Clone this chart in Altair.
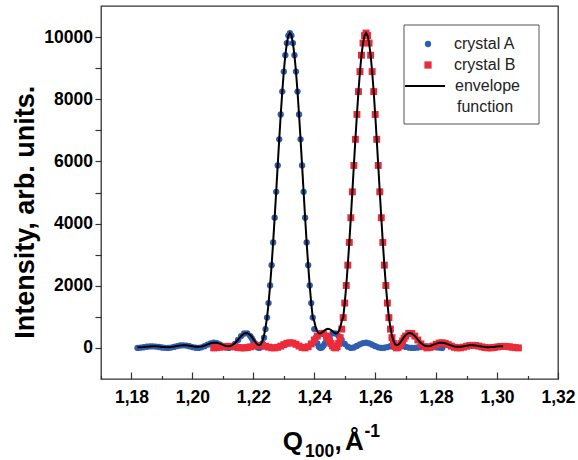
import altair as alt
import pandas as pd

FONT = "Liberation Sans"
BLUE = "#305DAD"
RED = "#EC2B3A"

# ---------------- data ----------------
# crystal A (blue circles)
a_q = [
    1.182, 1.183, 1.184, 1.185, 1.186, 1.187, 1.188, 1.189, 1.190, 1.191,
    1.192, 1.193, 1.194, 1.195, 1.196, 1.197, 1.198, 1.199, 1.200, 1.201,
    1.202, 1.203, 1.204, 1.205, 1.206, 1.207, 1.208, 1.209, 1.210, 1.211,
    1.212, 1.213, 1.214, 1.215, 1.216, 1.217, 1.218, 1.219,
    1.2195, 1.2200, 1.2205, 1.2210, 1.2215, 1.2220, 1.2225, 1.2230, 1.2235, 1.2240,
    1.2245, 1.2250, 1.2255, 1.2260, 1.2265, 1.2270, 1.2275, 1.2280, 1.2285, 1.2290,
    1.2295, 1.2300, 1.2305, 1.2310, 1.2315, 1.2320, 1.2325, 1.2330, 1.2335, 1.2340,
    1.2345, 1.2350, 1.2355, 1.2360, 1.2365, 1.2370, 1.2375, 1.2380, 1.2385, 1.2390,
    1.2395, 1.2400, 1.2405, 1.2410, 1.2415, 1.2420, 1.2425, 1.2430, 1.2435, 1.2440,
    1.2445,
    1.245, 1.246, 1.247, 1.248, 1.249, 1.250, 1.251, 1.252, 1.253, 1.254,
    1.255, 1.256, 1.257, 1.258, 1.259, 1.260, 1.261, 1.262, 1.263, 1.264,
    1.265, 1.266, 1.267, 1.268, 1.269, 1.270, 1.271, 1.272, 1.273, 1.274,
    1.275, 1.276, 1.277, 1.278, 1.279, 1.280, 1.281, 1.282,
]
a_int = [
    1, 9, 22, 37, 48, 51, 44, 30, 14, 2,
    1, 12, 33, 58, 78, 84, 76, 53, 26, 5,
    1, 19, 57, 105, 147, 167, 156, 116, 61, 14,
    1, 39, 129, 255, 381, 464, 469, 381,
    309, 225, 141, 66, 15, 1, 40, 146, 331, 605,
    975, 1443, 2008, 2663, 3394, 4188, 5021, 5871, 6710, 7511,
    8246, 8889, 9416, 9808, 10049, 10130, 10049, 9808, 9416, 8889,
    8246, 7511, 6710, 5871, 5021, 4188, 3394, 2663, 2008, 1443,
    975, 605, 331, 146, 40, 1, 15, 66, 141, 225,
    309,
    381, 469, 464, 381, 255, 129, 39, 1, 14, 61,
    116, 156, 167, 147, 105, 57, 19, 1, 5, 26,
    53, 76, 84, 78, 58, 33, 12, 1, 2, 14,
    30, 44, 51, 48, 37, 22, 9, 1,
]

# crystal B (red squares)
b_q = [
    1.207, 1.208, 1.209, 1.210, 1.211, 1.212, 1.213, 1.214, 1.215, 1.216,
    1.217, 1.218, 1.219, 1.220, 1.221, 1.222, 1.223, 1.224, 1.225, 1.226,
    1.227, 1.228, 1.229, 1.230, 1.231, 1.232, 1.233, 1.234, 1.235, 1.236,
    1.237, 1.238, 1.239, 1.240, 1.241, 1.242, 1.243, 1.244,
    1.2445, 1.2450, 1.2455, 1.2460, 1.2465, 1.2470, 1.2475, 1.2480, 1.2485, 1.2490,
    1.2495, 1.2500, 1.2505, 1.2510, 1.2515, 1.2520, 1.2525, 1.2530, 1.2535, 1.2540,
    1.2545, 1.2550, 1.2555, 1.2560, 1.2565, 1.2570, 1.2575, 1.2580, 1.2585, 1.2590,
    1.2595, 1.2600, 1.2605, 1.2610, 1.2615, 1.2620, 1.2625, 1.2630, 1.2635, 1.2640,
    1.2645, 1.2650, 1.2655, 1.2660, 1.2665, 1.2670, 1.2675, 1.2680, 1.2685, 1.2690,
    1.2695,
    1.270, 1.271, 1.272, 1.273, 1.274, 1.275, 1.276, 1.277, 1.278, 1.279,
    1.280, 1.281, 1.282, 1.283, 1.284, 1.285, 1.286, 1.287, 1.288, 1.289,
    1.290, 1.291, 1.292, 1.293, 1.294, 1.295, 1.296, 1.297, 1.298, 1.299,
    1.300, 1.301, 1.302, 1.303, 1.304, 1.305, 1.306, 1.307,
]
b_int = [
    1, 9, 22, 37, 48, 51, 44, 30, 14, 2,
    1, 12, 33, 58, 78, 84, 76, 53, 26, 5,
    1, 19, 57, 105, 147, 167, 156, 116, 61, 14,
    1, 39, 129, 255, 381, 464, 469, 381,
    309, 225, 141, 66, 15, 1, 40, 146, 331, 605,
    975, 1443, 2008, 2663, 3394, 4188, 5021, 5871, 6710, 7511,
    8246, 8889, 9416, 9808, 10049, 10130, 10049, 9808, 9416, 8889,
    8246, 7511, 6710, 5871, 5021, 4188, 3394, 2663, 2008, 1443,
    975, 605, 331, 146, 40, 1, 15, 66, 141, 225,
    309,
    381, 469, 464, 381, 255, 129, 39, 1, 14, 61,
    116, 156, 167, 147, 105, 57, 19, 1, 5, 26,
    53, 76, 84, 78, 58, 33, 12, 1, 2, 14,
    30, 44, 51, 48, 37, 22, 9, 1,
]

# envelope function (black line)
env_q = [
    1.182, 1.183, 1.184, 1.185, 1.186, 1.187, 1.188, 1.189, 1.190, 1.191,
    1.192, 1.193, 1.194, 1.195, 1.196, 1.197, 1.198, 1.199, 1.200, 1.201,
    1.202, 1.203, 1.204, 1.205, 1.206, 1.207, 1.208, 1.209, 1.210, 1.211,
    1.212, 1.213, 1.214, 1.215, 1.216, 1.217, 1.218, 1.219,
    1.2195, 1.2200, 1.2205, 1.2210, 1.2215, 1.2220, 1.2225, 1.2230, 1.2235, 1.2240,
    1.2245, 1.2250, 1.2255, 1.2260, 1.2265, 1.2270, 1.2275, 1.2280, 1.2285, 1.2290,
    1.2295, 1.2300, 1.2305, 1.2310, 1.2315, 1.2320, 1.2325, 1.2330, 1.2335, 1.2340,
    1.2345, 1.2350, 1.2355, 1.2360, 1.2365, 1.2370, 1.2375, 1.2380, 1.2385, 1.2390,
    1.2395, 1.2400, 1.2405, 1.2410, 1.2415, 1.2420, 1.2425, 1.2430, 1.2435, 1.2440,
    1.2445, 1.2450, 1.2455, 1.2460, 1.2465, 1.2470, 1.2475, 1.2480, 1.2485, 1.2490,
    1.2495, 1.2500, 1.2505, 1.2510, 1.2515, 1.2520, 1.2525, 1.2530, 1.2535, 1.2540,
    1.2545, 1.2550, 1.2555, 1.2560, 1.2565, 1.2570, 1.2575, 1.2580, 1.2585, 1.2590,
    1.2595, 1.2600, 1.2605, 1.2610, 1.2615, 1.2620, 1.2625, 1.2630, 1.2635, 1.2640,
    1.2645, 1.2650, 1.2655, 1.2660, 1.2665, 1.2670, 1.2675, 1.2680, 1.2685, 1.2690,
    1.2695,
    1.270, 1.271, 1.272, 1.273, 1.274, 1.275, 1.276, 1.277, 1.278, 1.279,
    1.280, 1.281, 1.282, 1.283, 1.284, 1.285, 1.286, 1.287, 1.288, 1.289,
    1.290, 1.291, 1.292, 1.293, 1.294, 1.295, 1.296, 1.297, 1.298, 1.299,
    1.300, 1.301, 1.302,
]
env_int = [
    19, 23, 30, 40, 48, 52, 50, 43, 33, 26,
    25, 31, 45, 63, 78, 85, 83, 69, 52, 38,
    35, 47, 75, 113, 148, 168, 165, 138, 98, 62,
    52, 83, 159, 269, 383, 465, 481, 414,
    355, 283, 210, 144, 98, 85, 122, 222, 397, 658,
    975, 1443, 2008, 2663, 3394, 4188, 5021, 5871, 6710, 7511,
    8246, 8889, 9416, 9808, 10049, 10130, 10049, 9808, 9416, 8889,
    8246, 7511, 6710, 5871, 5021, 4188, 3394, 2663, 2008, 1443,
    975, 860, 652, 527, 471, 465, 493, 535, 577, 606,
    618, 606, 577, 535, 493, 465, 471, 527, 652, 860,
    975, 1443, 2008, 2663, 3394, 4188, 5021, 5871, 6710, 7511,
    8246, 8889, 9416, 9808, 10049, 10130, 10049, 9808, 9416, 8889,
    8246, 7511, 6710, 5871, 5021, 4188, 3394, 2663, 2008, 1443,
    975, 658, 397, 222, 122, 85, 98, 144, 210, 283,
    355,
    414, 481, 465, 383, 269, 159, 83, 52, 62, 98,
    138, 165, 168, 148, 113, 75, 47, 35, 38, 52,
    69, 83, 85, 78, 63, 45, 31, 25, 26, 33,
    43, 50, 52,
]

x_tick_values = [1.17, 1.18, 1.19, 1.20, 1.21, 1.22, 1.23, 1.24,
                 1.25, 1.26, 1.27, 1.28, 1.29, 1.30, 1.31, 1.32]
y_tick_values = [0, 1000, 2000, 3000, 4000, 5000, 6000, 7000, 8000, 9000, 10000]
x_domain = [1.17, 1.32]
y_domain = [-1000, 11000]

legend_labels = ["crystal A", "crystal B", "envelope", "function"]

# ---------------- chart ----------------
W, H = 457, 373

df_a = pd.DataFrame({"q": a_q, "i": a_int})
df_b = pd.DataFrame({"q": b_q, "i": b_int})
df_e = pd.DataFrame({"q": env_q, "i": env_int})

x_scale = alt.Scale(domain=x_domain, nice=False, zero=False)
y_scale = alt.Scale(domain=y_domain, nice=False, zero=False)

x_axis = alt.Axis(
    values=x_tick_values,
    labelExpr="round(datum.value*100) % 2 == 0 ? replace(format(datum.value, '.2f'), '.', ',') : ''",
    tickSize=7,
    tickDash={"condition": {"test": "round(datum.value*100) % 2 == 1", "value": [0, 3.5, 3.5, 0]},
              "value": [7, 0]},
    offset=-7,
    domain=False,
    grid=False,
    title=None,
    labelFont=FONT,
    labelFontSize=17.5,
    labelFontWeight="bold",
    labelColor="black",
    labelPadding=9,
    labelBaseline="top",
    labelFlush=False,
    labelOverlap=False,
    tickColor="#333333",
    tickWidth=1.2,
)

y_axis = alt.Axis(
    values=y_tick_values,
    labelExpr="round(datum.value) % 2000 == 0 ? format(datum.value, 'd') : ''",
    tickSize=6,
    domain=False,
    grid=False,
    title="Intensity, arb. units.",
    titleFont=FONT,
    titleFontSize=27,
    titleFontWeight="bold",
    titleColor="black",
    titleX=-67.7,
    titleY=205.7,
    titleAngle=270,
    titleAlign="center",
    titleBaseline="alphabetic",
    labelFont=FONT,
    labelFontSize=17.5,
    labelFontWeight="bold",
    labelColor="black",
    labelPadding=2.5,
    labelOverlap=False,
    tickColor="#333333",
    tickWidth=1.2,
)

X = alt.X("q:Q", scale=x_scale, axis=x_axis)
Y = alt.Y("i:Q", scale=y_scale, axis=y_axis)

blue = alt.Chart(df_a).mark_point(
    filled=True, shape="circle", size=40, opacity=1, color=BLUE, strokeWidth=0
).encode(x=X, y=Y)

red = alt.Chart(df_b).mark_point(
    filled=True, shape="square", size=48, opacity=1, color=RED, strokeWidth=0
).encode(x=X, y=Y)

line = alt.Chart(df_e).mark_line(color="black", strokeWidth=2).encode(x=X, y=Y)


def txt(s, x, y, size, weight="normal", color="black", align="left"):
    return alt.Chart(pd.DataFrame({"t": [s]})).mark_text(
        font=FONT, fontSize=size, fontWeight=weight, color=color,
        align=align, baseline="alphabetic"
    ).encode(x=alt.value(x), y=alt.value(y), text="t:N")


one = pd.DataFrame({"k": [0]})

legend_box = alt.Chart(one).mark_rect(
    fill="white", stroke="#555555", strokeWidth=1
).encode(x=alt.value(303), x2=alt.value(438), y=alt.value(19), y2=alt.value(118))

legend_circle = alt.Chart(one).mark_point(
    filled=True, shape="circle", size=40, opacity=1, color=BLUE, strokeWidth=0
).encode(x=alt.value(327), y=alt.value(38))

legend_square = alt.Chart(one).mark_point(
    filled=True, shape="square", size=52, opacity=1, color=RED, strokeWidth=0
).encode(x=alt.value(327), y=alt.value(59))

legend_line = alt.Chart(one).mark_rule(color="black", strokeWidth=2).encode(
    x=alt.value(304), x2=alt.value(344), y=alt.value(80)
)

leg_a = txt(legend_labels[0], 353, 43.3, 16, color="#222222")
leg_b = txt(legend_labels[1], 353, 63.5, 16, color="#222222")
leg_e1 = txt(legend_labels[2], 354, 84.7, 16, color="#222222")
leg_e2 = txt(legend_labels[3], 356, 105.5, 16, color="#222222")

# x-axis title: Q_100, Å^-1
t_q = txt("Q", 181.7, 444, 26, "bold")
t_sub = txt("100", 204, 451.3, 17.5, "bold")
t_comma = txt(",", 233.5, 444, 26, "bold")
t_a = txt("Å", 244, 444, 26, "bold")
t_sup = txt("-1", 263.5, 430.7, 17.5, "bold")

chart = alt.layer(
    blue, red, line,
    legend_box, legend_circle, legend_square, legend_line,
    leg_a, leg_b, leg_e1, leg_e2,
    t_q, t_sub, t_comma, t_a, t_sup,
).properties(
    width=W,
    height=H,
    autosize=alt.AutoSizeParams(type="none"),
    padding={"left": 101, "top": 6, "right": 20, "bottom": 81},
    background="white",
).configure_view(
    stroke="#333333",
    strokeWidth=1.3,
)

chart.save("out.html", embed_options={"renderer": "svg", "actions": False})
